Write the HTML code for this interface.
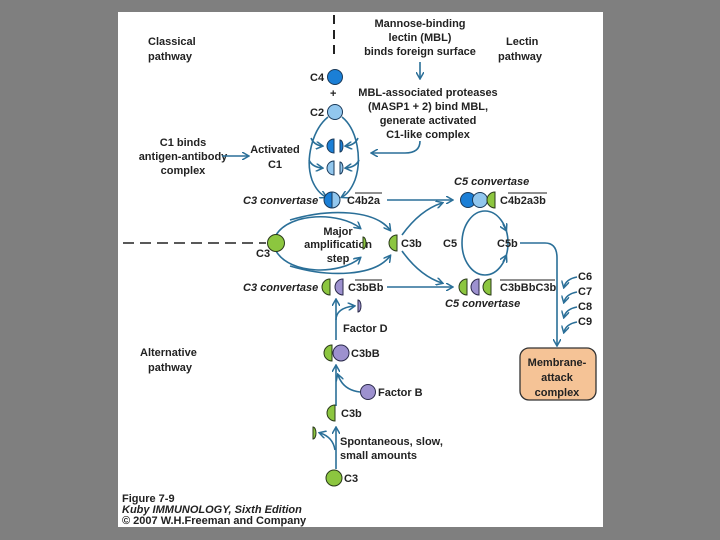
<!DOCTYPE html>
<html><head><meta charset="utf-8"><style>
html,body{margin:0;padding:0;background:#7f7f7f;width:720px;height:540px;overflow:hidden}
svg{display:block}
text{font-family:"Liberation Sans",sans-serif;font-size:11px;font-weight:bold;fill:#222}
.i{font-style:italic}
.s{stroke:#2a6f98;stroke-width:1.6;fill:none}
</style></head><body>
<svg width="720" height="540" viewBox="0 0 720 540">
<defs><marker id="a" markerWidth="8" markerHeight="8" refX="6" refY="4" orient="auto" markerUnits="userSpaceOnUse"><path d="M0,0 L7,4 L0,8" fill="none" stroke="#2a6f98" stroke-width="1.5"/></marker></defs>
<rect x="118" y="12" width="485" height="515" fill="#fff"/>
<line x1="334" y1="15" x2="334" y2="60" stroke="#222" stroke-width="2" stroke-dasharray="9,6"/>
<line x1="123" y1="243" x2="266" y2="243" stroke="#222" stroke-width="1.5" stroke-dasharray="11,6"/>
<text x="148" y="45" font-size="12">Classical</text><text x="148" y="60" font-size="12">pathway</text>
<text x="506" y="45" font-size="12">Lectin</text><text x="498" y="60" font-size="12">pathway</text>
<text x="140" y="356" font-size="12">Alternative</text><text x="148" y="371" font-size="12">pathway</text>
<rect x="520" y="348" width="76" height="52" rx="9" fill="#f5c396" stroke="#333" stroke-width="1.3"/>
<g text-anchor="middle">
<text x="420" y="27">Mannose-binding</text><text x="420" y="41">lectin (MBL)</text><text x="420" y="55">binds foreign surface</text>
<text x="428" y="96">MBL-associated proteases</text><text x="428" y="110">(MASP1 + 2) bind MBL,</text><text x="428" y="124">generate activated</text><text x="428" y="138">C1-like complex</text>
<text x="183" y="146">C1 binds</text><text x="183" y="160">antigen-antibody</text><text x="183" y="174">complex</text>
<text x="275" y="153">Activated</text><text x="275" y="168">C1</text>
<text x="338" y="235">Major</text><text x="338" y="248">amplification</text><text x="338" y="262">step</text>
<text x="557" y="366">Membrane-</text><text x="557" y="381">attack</text><text x="557" y="396">complex</text>
</g>
<path class="s" d="M420,62 V78" marker-end="url(#a)"/>
<path class="s" d="M222,156 H248" marker-end="url(#a)"/>
<path class="s" d="M420,141 Q420,153 405,153 H372" marker-end="url(#a)"/>
<text x="310" y="81">C4</text><circle cx="335" cy="77" r="7.5" fill="#1b7fd6" stroke="#1a3a5a"/>
<text x="330" y="97" font-size="12">+</text>
<text x="310" y="116">C2</text><circle cx="335" cy="112" r="7.5" fill="#92c7ee" stroke="#1a3a5a"/>
<path class="s" d="M328,117 C312,130 305,160 312,180 C316,190 322,195 326,197" marker-end="url(#a)"/>
<path class="s" d="M342,117 C358,130 362,160 355,180 C351,190 346,195 342,197" marker-end="url(#a)"/>
<path class="s" d="M311,138 Q314,145 322,146" marker-end="url(#a)"/>
<path class="s" d="M358,138 Q355,145 346,146" marker-end="url(#a)"/>
<path class="s" d="M309,160 Q312,167 322,168" marker-end="url(#a)"/>
<path class="s" d="M359,160 Q356,167 346,168" marker-end="url(#a)"/>
<path d="M334,139 A7,7 0 0 0 334,153 Z" fill="#1b7fd6" stroke="#1a3a5a"/>
<path d="M340,140 A3,6 0 0 1 340,152 Z" fill="#1b7fd6" stroke="#1a3a5a"/>
<path d="M334,161 A7,7 0 0 0 334,175 Z" fill="#92c7ee" stroke="#1a3a5a"/>
<path d="M340,162 A3,6 0 0 1 340,174 Z" fill="#92c7ee" stroke="#1a3a5a"/>
<text x="243" y="204" class="i">C3 convertase</text>
<path d="M332,192 A8,8 0 0 0 332,208 Z" fill="#1b7fd6" stroke="#1a3a5a"/>
<path d="M332,192 A8,8 0 0 1 332,208 Z" fill="#92c7ee" stroke="#1a3a5a"/>
<text x="347" y="204">C4b2a</text><line x1="355" y1="193" x2="382" y2="193" stroke="#222"/>
<path class="s" d="M387,200 H452" marker-end="url(#a)"/>
<text x="454" y="185" class="i">C5 convertase</text>
<circle cx="468" cy="200" r="7.5" fill="#1b7fd6" stroke="#1a3a5a"/>
<circle cx="480" cy="200" r="7.5" fill="#92c7ee" stroke="#1a3a5a"/>
<path d="M495,192 A8,8 0 0 0 495,208 Z" fill="#8cc63f" stroke="#2a3a1a"/>
<text x="500" y="204">C4b2a3b</text><line x1="508" y1="193" x2="547" y2="193" stroke="#222"/>
<ellipse class="s" cx="485" cy="243" rx="23" ry="32"/>
<path class="s" d="M503,224 L506,230" marker-end="url(#a)"/>
<path class="s" d="M503,262 L506,256" marker-end="url(#a)"/>
<text x="443" y="247">C5</text><text x="497" y="247">C5b</text>
<path class="s" d="M520,243 H545 Q557,243 557,258 V345" marker-end="url(#a)"/>
<text x="578" y="280">C6</text><text x="578" y="295">C7</text><text x="578" y="310">C8</text><text x="578" y="325">C9</text>
<path class="s" d="M577,277 Q566,279 564,287" marker-end="url(#a)"/>
<path class="s" d="M577,292 Q566,294 564,302" marker-end="url(#a)"/>
<path class="s" d="M577,307 Q566,309 564,317" marker-end="url(#a)"/>
<path class="s" d="M577,322 Q566,324 564,332" marker-end="url(#a)"/>
<path class="s" d="M276,235 C290,212 340,212 360,228" marker-end="url(#a)"/>
<path class="s" d="M276,251 C290,275 340,275 360,258" marker-end="url(#a)"/>
<path class="s" d="M290,220 C330,208 375,210 390,230" marker-end="url(#a)"/>
<path class="s" d="M290,266 C330,278 375,276 390,256" marker-end="url(#a)"/>
<circle cx="276" cy="243" r="8.5" fill="#8cc63f" stroke="#2a3a1a"/>
<text x="256" y="257">C3</text>
<path d="M363,237 A3,6 0 0 1 363,249 Z" fill="#8cc63f" stroke="#2a3a1a"/>
<path d="M397,235 A8,8 0 0 0 397,251 Z" fill="#8cc63f" stroke="#2a3a1a"/>
<text x="401" y="247">C3b</text>
<path class="s" d="M402,235 Q420,210 442,203" marker-end="url(#a)"/>
<path class="s" d="M402,251 Q420,276 442,283" marker-end="url(#a)"/>
<text x="243" y="291" class="i">C3 convertase</text>
<path d="M330,279 A8,8 0 0 0 330,295 Z" fill="#8cc63f" stroke="#2a3a1a"/>
<path d="M343,279 A8,8 0 0 0 343,295 Z" fill="#9d91cf" stroke="#2a2a4a"/>
<text x="348" y="291">C3bBb</text><line x1="355" y1="280" x2="382" y2="280" stroke="#222"/>
<path class="s" d="M387,287 H452" marker-end="url(#a)"/>
<path d="M467,279 A8,8 0 0 0 467,295 Z" fill="#8cc63f" stroke="#2a3a1a"/>
<path d="M479,279 A8,8 0 0 0 479,295 Z" fill="#9d91cf" stroke="#2a2a4a"/>
<path d="M491,279 A8,8 0 0 0 491,295 Z" fill="#8cc63f" stroke="#2a3a1a"/>
<text x="500" y="291">C3bBbC3b</text><line x1="500" y1="280" x2="555" y2="280" stroke="#222"/>
<text x="445" y="307" class="i">C5 convertase</text>
<path class="s" d="M336,340 V300" marker-end="url(#a)"/>
<path class="s" d="M336,320 Q336,308 354,306" marker-end="url(#a)"/>
<path d="M358,300 A3,6 0 0 1 358,312 Z" fill="#9d91cf" stroke="#2a2a4a"/>
<text x="343" y="332">Factor D</text>
<path d="M332,345 A8,8 0 0 0 332,361 Z" fill="#8cc63f" stroke="#2a3a1a"/>
<circle cx="341" cy="353" r="8" fill="#9d91cf" stroke="#2a2a4a"/>
<text x="351" y="357">C3bB</text>
<path class="s" d="M336,406 V366" marker-end="url(#a)"/>
<path class="s" d="M360,392 Q343,390 338,375" marker-end="url(#a)"/>
<circle cx="368" cy="392" r="7.5" fill="#9d91cf" stroke="#2a2a4a"/>
<text x="378" y="396">Factor B</text>
<path d="M335,405 A8,8 0 0 0 335,421 Z" fill="#8cc63f" stroke="#2a3a1a"/>
<text x="341" y="417">C3b</text>
<path class="s" d="M336,469 V428" marker-end="url(#a)"/>
<path class="s" d="M335,450 Q333,437 320,433" marker-end="url(#a)"/>
<path d="M313,427 A3,6 0 0 1 313,439 Z" fill="#8cc63f" stroke="#2a3a1a"/>
<text x="340" y="445">Spontaneous, slow,</text><text x="340" y="459">small amounts</text>
<circle cx="334" cy="478" r="8" fill="#8cc63f" stroke="#2a3a1a"/>
<text x="344" y="482">C3</text>
<text x="122" y="502" font-size="9.5">Figure 7-9</text>
<text x="122" y="513" font-size="7.5" class="i">Kuby IMMUNOLOGY, Sixth Edition</text>
<text x="122" y="524" font-size="7.5" font-weight="normal">© 2007 W.H.Freeman and Company</text>
</svg>
</body></html>
